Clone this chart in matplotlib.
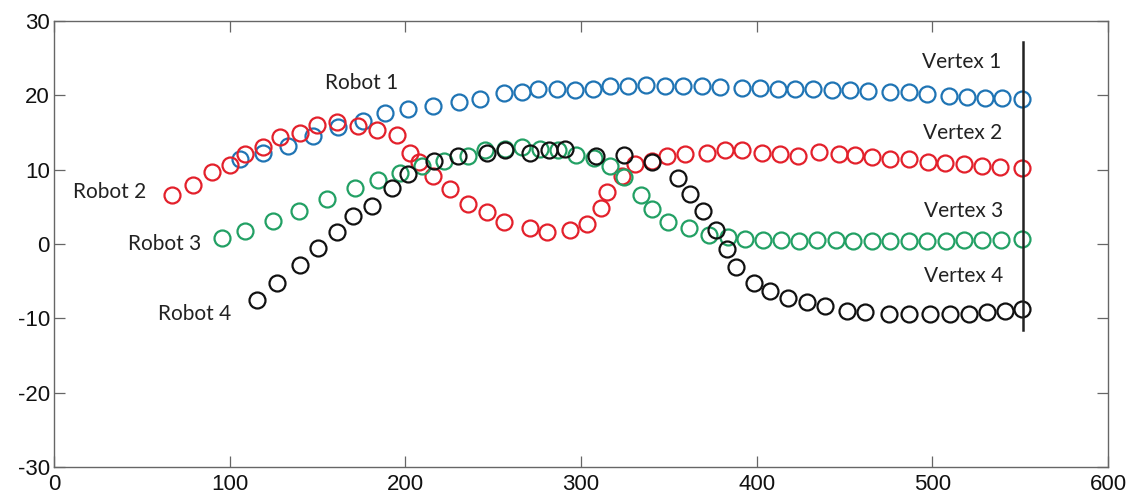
import matplotlib
matplotlib.use("Agg")
import matplotlib.pyplot as plt

# ---- data ----
robot1_x = [105.9, 119.2, 133.4, 147.6, 161.9, 176.1, 188.5, 201.7, 216.0, 230.5,
            242.6, 255.9, 266.3, 275.8, 286.2, 296.7, 307.1, 316.6, 326.7, 336.9,
            347.9, 358.3, 368.8, 379.2, 391.6, 402.0, 412.4, 421.9, 432.3, 442.8,
            453.2, 463.6, 476.0, 486.5, 496.9, 509.3, 519.7, 530.2, 539.6, 551.0]
robot1_y = [11.4, 12.3, 13.2, 14.5, 15.7, 16.6, 17.6, 18.2, 18.6, 19.1,
            19.5, 20.3, 20.5, 20.8, 20.9, 20.7, 20.9, 21.2, 21.2, 21.4,
            21.2, 21.2, 21.2, 21.1, 21.0, 21.0, 20.9, 20.9, 20.8, 20.7,
            20.7, 20.6, 20.5, 20.4, 20.2, 19.9, 19.8, 19.6, 19.6, 19.5]

robot2_x = [67.0, 79.3, 89.8, 100.2, 108.8, 119.2, 128.7, 140.1, 149.6, 161.0,
            173.3, 183.7, 195.1, 202.7, 207.5, 216.0, 225.5, 235.9, 246.4, 255.9,
            271.1, 280.6, 293.9, 303.4, 311.5, 314.7, 323.3, 330.8, 340.3, 348.9,
            359.3, 371.6, 382.1, 391.6, 403.0, 413.4, 423.8, 435.2, 446.6, 456.1,
            465.6, 476.0, 486.5, 497.8, 507.3, 517.8, 528.2, 538.6, 551.0]
robot2_y = [6.6, 7.9, 9.7, 10.6, 12.1, 13.0, 14.4, 15.0, 16.0, 16.4,
            15.9, 15.3, 14.6, 12.3, 11.0, 9.2, 7.4, 5.4, 4.3, 2.9,
            2.2, 1.6, 1.9, 2.7, 4.9, 7.0, 9.2, 10.8, 11.2, 11.9,
            12.1, 12.3, 12.6, 12.6, 12.3, 12.1, 11.9, 12.4, 12.1, 12.0,
            11.7, 11.5, 11.4, 11.0, 10.9, 10.7, 10.5, 10.4, 10.2]

robot3_x = [95.5, 108.8, 124.9, 139.6, 155.3, 171.4, 184.2, 197.0, 209.3, 222.0,
            235.9, 245.4, 256.5, 266.3, 276.7, 287.0, 297.0, 307.5, 316.6, 324.6,
            334.0, 340.3, 349.8, 361.5, 373.0, 383.9, 393.5, 403.5, 414.0, 424.0,
            434.5, 445.0, 455.0, 465.5, 476.0, 486.5, 497.0, 507.5, 518.0, 528.5,
            539.0, 551.0]
robot3_y = [0.8, 1.8, 3.1, 4.5, 6.0, 7.5, 8.6, 9.6, 10.5, 11.1,
            11.9, 12.6, 12.8, 13.0, 12.8, 12.6, 12.0, 11.6, 10.5, 9.0,
            6.6, 4.7, 2.9, 2.2, 1.2, 1.0, 0.7, 0.5, 0.5, 0.4,
            0.5, 0.5, 0.4, 0.4, 0.4, 0.4, 0.4, 0.4, 0.5, 0.5,
            0.5, 0.7]

robot4_x = [115.4, 126.8, 140.1, 150.5, 161.0, 170.4, 180.9, 192.3, 201.7, 216.5,
            230.0, 246.4, 257.0, 271.1, 281.5, 291.0, 308.5, 324.2, 340.3, 355.0,
            362.1, 369.2, 377.0, 383.0, 388.0, 398.2, 407.7, 418.1, 428.6, 439.0,
            451.3, 461.8, 475.1, 486.5, 498.8, 510.2, 520.6, 531.1, 541.5, 551.0]
robot4_y = [-7.6, -5.2, -2.8, -0.5, 1.55, 3.8, 5.15, 7.6, 9.4, 11.2,
            11.9, 12.3, 12.6, 12.3, 12.6, 12.8, 11.9, 12.0, 11.0, 8.9,
            6.7, 4.5, 1.85, -0.7, -3.15, -5.2, -6.3, -7.3, -7.85, -8.4,
            -9.0, -9.2, -9.4, -9.4, -9.4, -9.4, -9.4, -9.2, -9.0, -8.75]

robot_labels = ["Robot 1", "Robot 2", "Robot 3", "Robot 4"]
robot_label_x = [175.4, 31.9, 63.2, 80.3]
robot_label_y = [21.6, 6.95, 0.0, -9.4]

vertex_labels = ["Vertex 1", "Vertex 2", "Vertex 3", "Vertex 4"]
vertex_label_x = [516.5, 517.0, 518.0, 518.0]
vertex_label_y = [24.5, 14.9, 4.5, -4.3]

vline_x = 551.5
vline_ymin, vline_ymax = -11.6, 27.2

x_ticks = [0, 100, 200, 300, 400, 500, 600]
y_ticks = [-30, -20, -10, 0, 10, 20, 30]

colors = ["#1f74b4", "#e3202b", "#22a064", "#111111"]

# ---- figure ----
fig = plt.figure(figsize=(11.43, 4.97), dpi=100)
ax = fig.add_axes([54 / 1143, 30 / 497, (1108 - 54) / 1143, (467 - 21) / 497])

series = [(robot1_x, robot1_y), (robot2_x, robot2_y),
          (robot3_x, robot3_y), (robot4_x, robot4_y)]
for (xs, ys), c in zip(series, colors):
    ax.plot(xs, ys, linestyle="none", marker="o", markersize=11.5,
            markerfacecolor="none", markeredgecolor=c, markeredgewidth=1.6)

ax.plot([vline_x, vline_x], [vline_ymin, vline_ymax], color="#222222", linewidth=1.8)

label_font = ["Lato", "DejaVu Sans"]
for t, x, y in zip(robot_labels, robot_label_x, robot_label_y):
    ax.text(x, y, t, ha="center", va="center", fontsize=15, color="#222222",
            family=label_font)
for t, x, y in zip(vertex_labels, vertex_label_x, vertex_label_y):
    ax.text(x, y, t, ha="center", va="center", fontsize=15, color="#222222",
            family=label_font)

ax.set_xlim(0, 600)
ax.set_ylim(-30, 30)
ax.set_xticks(x_ticks)
ax.set_yticks(y_ticks)
ax.set_xticklabels([str(v) for v in x_ticks])
ax.set_yticklabels([str(v) for v in y_ticks])

for s in ax.spines.values():
    s.set_color("#666666")
    s.set_linewidth(1.0)

ax.tick_params(direction="in", length=8, width=0.9, color="#666666",
               top=True, right=True, labelsize=16, labelcolor="#111111")
ax.tick_params(axis="x", pad=5)
ax.tick_params(axis="y", pad=3)
for lab in ax.get_xticklabels() + ax.get_yticklabels():
    lab.set_family(["Liberation Sans", "DejaVu Sans"])

fig.savefig("out.png", dpi=100, facecolor="white")
